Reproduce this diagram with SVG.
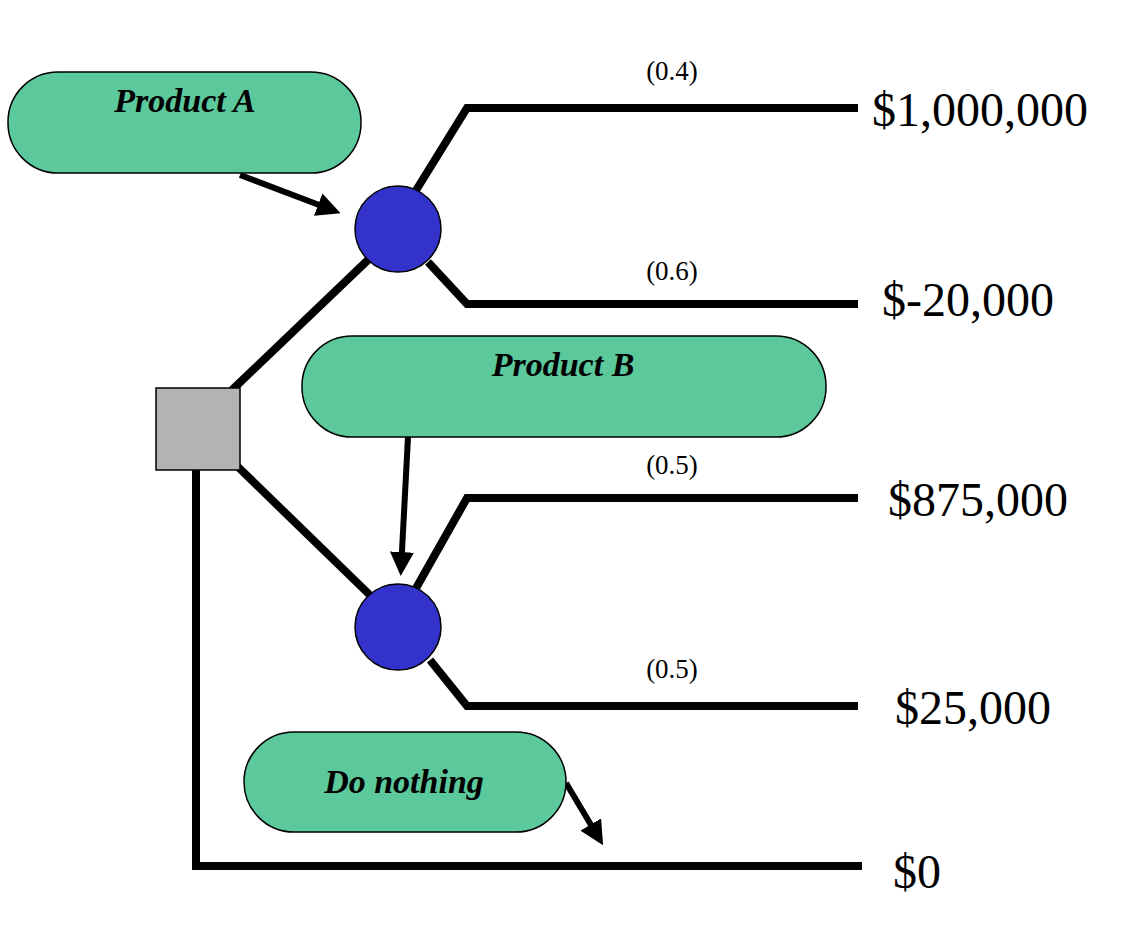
<svg xmlns="http://www.w3.org/2000/svg" width="1146" height="948" viewBox="0 0 1146 948">
<defs>
<marker id="ah" markerWidth="4" markerHeight="4" refX="3" refY="2" orient="auto" markerUnits="strokeWidth"><path d="M0,0 L4,2 L0,4 z" fill="#000"/></marker>
<style>
.pill{fill:#5bc99c;stroke:#000;stroke-width:1.5}
.lbl{font-family:"Liberation Serif",serif;font-weight:bold;font-style:italic;font-size:34px;text-anchor:middle}
.prob{font-family:"Liberation Serif",serif;font-size:27px;text-anchor:middle}
.val{font-family:"Liberation Serif",serif;font-size:48px}
.br{fill:none;stroke:#000;stroke-width:8;stroke-linejoin:miter}
.ar{fill:none;stroke:#000;stroke-width:6;marker-end:url(#ah)}
.ch{fill:#3333cc;stroke:#000;stroke-width:1.5}
</style>
</defs>
<rect width="1146" height="948" fill="#fff"/>
<g id="connectors">
<polyline class="br" points="415,192 467,108 858,108"/>
<polyline class="br" points="428,262 467,304 858,304"/>
<line class="br" x1="232" y1="390" x2="370" y2="258"/>
<line class="br" x1="236" y1="465" x2="375" y2="600"/>
<polyline class="br" points="415,590 467,498 858,498"/>
<polyline class="br" points="430,660 467,706 858,706"/>
<polyline class="br" points="196,470 196,866 862,866"/>
<line class="ar" x1="240" y1="175" x2="335" y2="211"/>
<line class="ar" x1="408" y1="437" x2="401" y2="570"/>
<line class="ar" x1="566" y1="783" x2="600" y2="840"/>
</g>
<g id="productA"><rect class="pill" x="8" y="72" width="353" height="101" rx="50"/><text class="lbl" x="185" y="112">Product A</text></g>
<g id="productB"><rect class="pill" x="302" y="336" width="524" height="101" rx="50"/><text class="lbl" x="563" y="376">Product B</text></g>
<g id="doNothing"><rect class="pill" x="244" y="732" width="322" height="100" rx="50"/><text class="lbl" x="404" y="793">Do nothing</text></g>
<g id="chance1"><circle class="ch" cx="398" cy="229" r="43"/></g>
<g id="chance2"><circle class="ch" cx="398" cy="627" r="43"/></g>
<g id="decision"><rect x="156" y="388" width="84" height="82" fill="#b3b3b3" stroke="#000" stroke-width="1.5"/></g>
<g id="labels">
<text class="prob" x="672" y="80">(0.4)</text>
<text class="prob" x="672" y="280">(0.6)</text>
<text class="prob" x="672" y="474">(0.5)</text>
<text class="prob" x="672" y="678">(0.5)</text>
<text class="val" x="872" y="126">$1,000,000</text>
<text class="val" x="882" y="316">$-20,000</text>
<text class="val" x="888" y="516">$875,000</text>
<text class="val" x="895" y="724">$25,000</text>
<text class="val" x="893" y="888">$0</text>
</g>
</svg>
